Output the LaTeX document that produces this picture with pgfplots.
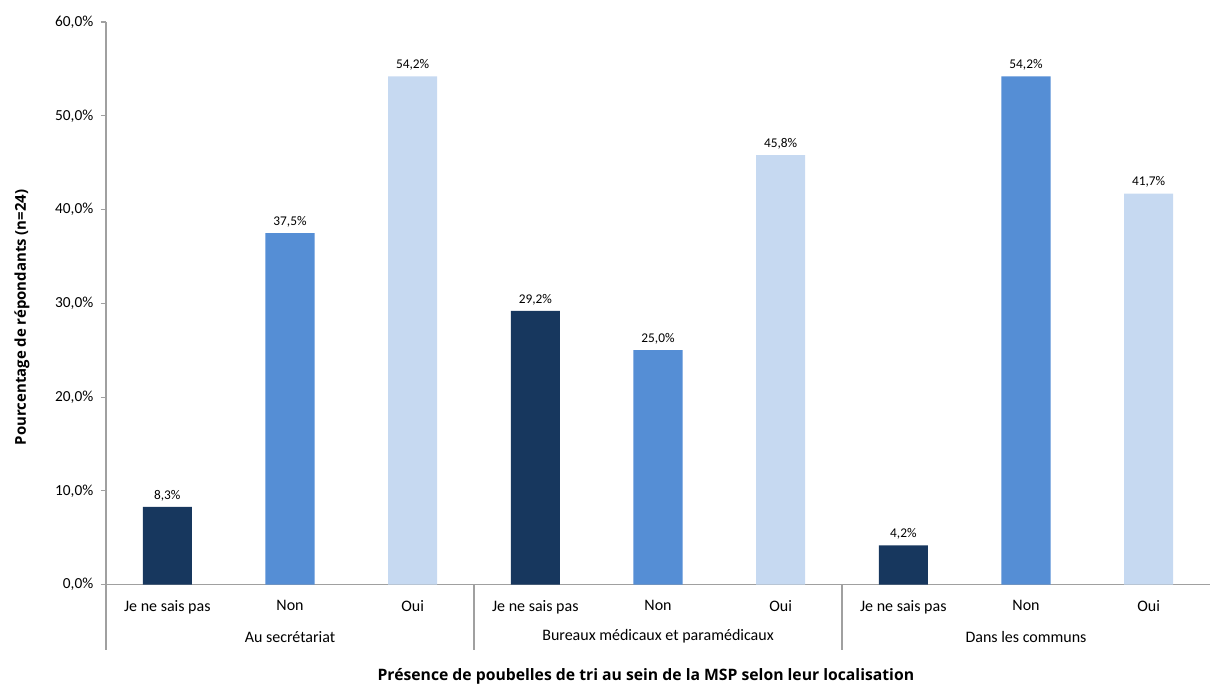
\documentclass[border=0pt]{standalone}
\usepackage{pgfplots}
\pgfplotsset{compat=1.18}
\usepackage{fontspec}
\setmainfont{Carlito}
\newfontfamily\headfont{Open Sans}

\definecolor{cdark}{RGB}{23,55,94}
\definecolor{cmid}{RGB}{85,142,213}
\definecolor{clight}{RGB}{198,217,241}
\definecolor{caxis}{RGB}{160,160,160}

\begin{document}
\begin{tikzpicture}
\begin{axis}[
  scale only axis,
  width=828pt, height=422pt,
  xmin=-0.5, xmax=8.5,
  ymin=0, ymax=60,
  axis x line=bottom, axis y line=left,
  axis line style={caxis, line width=0.8pt, -},
  xtick={0,...,8},
  xticklabels={Je ne sais pas, Non, Oui, Je ne sais pas, Non, Oui, Je ne sais pas, Non, Oui},
  xtick style={draw=none},
  xticklabel style={font=\fontsize{12}{14}\selectfont, yshift=-4pt},
  ytick={0,10,...,60},
  yticklabels={{0,0\%},{10,0\%},{20,0\%},{30,0\%},{40,0\%},{50,0\%},{60,0\%}},
  ytick style={caxis, line width=0.8pt},
  tick align=outside,
  major tick length=4pt,
  yticklabel style={font=\fontsize{11.5}{13}\selectfont, xshift=-2pt},
  ylabel={Pourcentage de répondants (n=24)},
  ylabel style={font=\headfont\bfseries\fontsize{11.2}{13}\selectfont, at={(axis description cs:-0.0761,0.475)}, anchor=center},
  ybar, bar width=0.4, bar shift=0pt,
  /pgf/number format/assume math mode=true,
  nodes near coords={\pgfmathprintnumber[fixed,precision=1,zerofill,use comma]{\pgfplotspointmeta}\%},
  every node near coord/.append style={font=\fontsize{10}{12}\selectfont, black, yshift=1pt},
  clip=false,
]
% Je ne sais pas
\addplot[fill=cdark, draw=none] coordinates {(0,8.3) (3,29.2) (6,4.2)};
% Non
\addplot[fill=cmid, draw=none] coordinates {(1,37.5) (4,25.0) (7,54.2)};
% Oui
\addplot[fill=clight, draw=none] coordinates {(2,54.2) (5,45.8) (8,41.7)};

% group separators below the category axis
\draw[caxis, line width=0.8pt] (axis cs:-0.5,0) -- ++(0pt,-48.75pt);
\draw[caxis, line width=0.8pt] (axis cs:2.5,0) -- ++(0pt,-48.75pt);
\draw[caxis, line width=0.8pt] (axis cs:5.5,0) -- ++(0pt,-48.75pt);
% group names
\node[font=\fontsize{12}{14}\selectfont] at ([yshift=-39pt]axis cs:1,0) {Au secrétariat};
\node[font=\fontsize{12}{14}\selectfont] at ([yshift=-39pt]axis cs:4,0) {Bureaux médicaux et paramédicaux};
\node[font=\fontsize{12}{14}\selectfont] at ([yshift=-39pt]axis cs:7,0) {Dans les communs};
% axis title
\node[font=\headfont\bfseries\fontsize{11.8}{13}\selectfont] at ([yshift=-69pt]rel axis cs:0.489,0) {Présence de poubelles de tri au sein de la MSP selon leur localisation};
\end{axis}
\pgfresetboundingbox
\path (-79.5pt,-75.75pt) rectangle (829.5pt,438.5pt);
\end{tikzpicture}
\end{document}
